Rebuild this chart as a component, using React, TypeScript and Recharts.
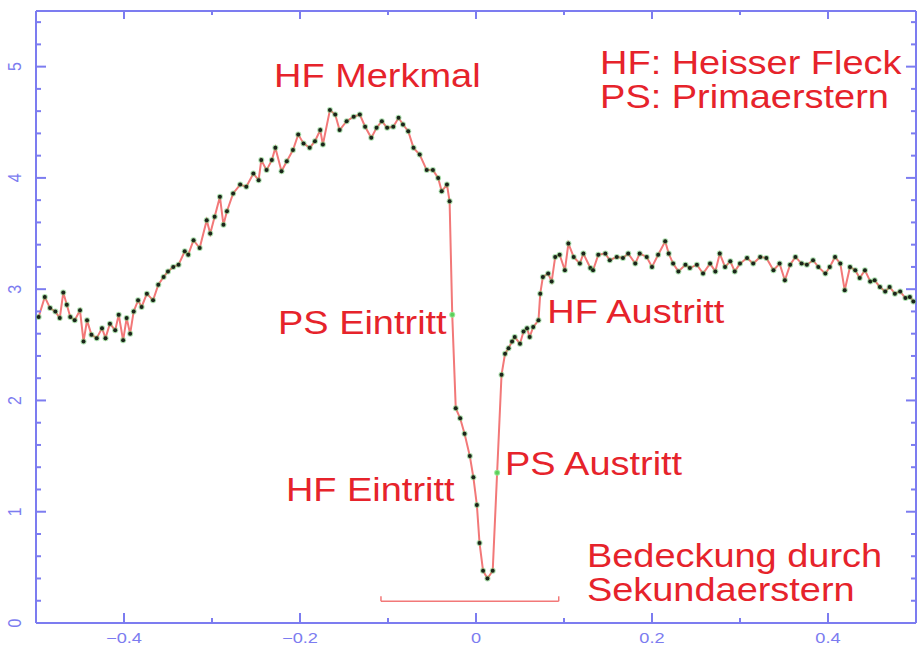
import { LineChart, Line, XAxis, YAxis, ReferenceLine, ReferenceDot } from 'recharts';

// Lichtkurve vor, waehrend und nach der Bedeckung (Phase, Helligkeit)
const prePhase = [
  -0.497, -0.490, -0.484, -0.478, -0.473, -0.469, -0.465, -0.461, -0.456, -0.450,
  -0.446, -0.442, -0.437, -0.431, -0.425, -0.421, -0.416, -0.410, -0.406, -0.401,
  -0.397, -0.393, -0.389, -0.384, -0.380, -0.374, -0.367, -0.361, -0.355, -0.350,
  -0.344, -0.338, -0.331, -0.327, -0.321, -0.314, -0.306, -0.302, -0.297, -0.291,
  -0.287, -0.283, -0.276, -0.268, -0.261, -0.253, -0.247, -0.244, -0.238, -0.232,
  -0.228, -0.221, -0.215, -0.208, -0.202, -0.196, -0.189, -0.183, -0.177, -0.174,
  -0.166, -0.160, -0.155, -0.147, -0.139, -0.132, -0.126, -0.119, -0.113, -0.107,
  -0.101, -0.094, -0.088, -0.083, -0.077, -0.071, -0.064, -0.056, -0.049, -0.043,
  -0.039, -0.033, -0.030,
];
const preFlux = [
  2.75, 2.93, 2.83, 2.80, 2.74, 2.97, 2.86, 2.75, 2.72, 2.81,
  2.53, 2.72, 2.59, 2.56, 2.65, 2.56, 2.69, 2.63, 2.77, 2.54,
  2.74, 2.60, 2.80, 2.90, 2.84, 2.96, 2.90, 3.04, 3.11, 3.16,
  3.20, 3.22, 3.34, 3.31, 3.44, 3.37, 3.62, 3.50, 3.65, 3.83,
  3.58, 3.70, 3.86, 3.94, 3.92, 4.04, 3.98, 4.16, 4.07, 4.16,
  4.27, 4.06, 4.15, 4.25, 4.39, 4.31, 4.27, 4.33, 4.43, 4.30,
  4.61, 4.57, 4.43, 4.51, 4.55, 4.57, 4.46, 4.36, 4.45, 4.51,
  4.45, 4.46, 4.54, 4.48, 4.42, 4.27, 4.21, 4.07, 4.07, 4.00,
  3.88, 3.94, 3.79,
];

const eclipsePhase = [-0.027, -0.023, -0.018, -0.013, -0.007, -0.003, 0.001, 0.004, 0.008, 0.013, 0.019, 0.024];
const eclipseFlux = [2.77, 1.93, 1.84, 1.70, 1.50, 1.31, 1.06, 0.72, 0.47, 0.40, 0.47, 1.35];

const postPhase = [
  0.029, 0.033, 0.037, 0.041, 0.044, 0.050, 0.054, 0.058, 0.061, 0.065,
  0.071, 0.073, 0.076, 0.082, 0.086, 0.090, 0.095, 0.101, 0.105, 0.111,
  0.118, 0.122, 0.130, 0.133, 0.139, 0.147, 0.152, 0.160, 0.167, 0.173,
  0.181, 0.186, 0.194, 0.200, 0.207, 0.215, 0.219, 0.224, 0.230, 0.238,
  0.243, 0.251, 0.258, 0.266, 0.272, 0.277, 0.283, 0.289, 0.294, 0.300,
  0.308, 0.315, 0.323, 0.330, 0.338, 0.345, 0.351, 0.357, 0.363, 0.370,
  0.376, 0.383, 0.389, 0.397, 0.402, 0.408, 0.414, 0.419, 0.425, 0.431,
  0.436, 0.442, 0.448, 0.453, 0.459, 0.465, 0.470, 0.476, 0.482, 0.488,
  0.493, 0.497,
];
const postFlux = [
  2.23, 2.42, 2.47, 2.53, 2.57, 2.51, 2.62, 2.65, 2.57, 2.66,
  2.72, 2.96, 3.11, 3.14, 3.07, 3.29, 3.31, 3.17, 3.41, 3.29,
  3.23, 3.32, 3.19, 3.17, 3.31, 3.32, 3.26, 3.29, 3.28, 3.32,
  3.23, 3.32, 3.29, 3.20, 3.31, 3.43, 3.32, 3.23, 3.16, 3.22,
  3.19, 3.22, 3.14, 3.23, 3.16, 3.32, 3.20, 3.25, 3.16, 3.23,
  3.28, 3.23, 3.29, 3.28, 3.17, 3.23, 3.08, 3.22, 3.29, 3.23,
  3.22, 3.26, 3.20, 3.14, 3.20, 3.29, 3.23, 2.99, 3.20, 3.17,
  3.10, 3.17, 3.07, 3.08, 3.02, 2.98, 3.02, 2.96, 2.98, 2.92,
  2.93, 2.89,
];

// Punkte, die gruen markiert sind (Mitte der Ein-/Austritte)
const greenPhases = [-0.027, 0.024];

// Achsen
const xTicks = [-0.4, -0.3, -0.2, -0.1, 0, 0.1, 0.2, 0.3, 0.4];
const yTicks = [
  0, 0.2, 0.4, 0.6, 0.8, 1, 1.2, 1.4, 1.6, 1.8, 2, 2.2, 2.4, 2.6,
  2.8, 3, 3.2, 3.4, 3.6, 3.8, 4, 4.2, 4.4, 4.6, 4.8, 5, 5.2, 5.4,
];

// Beschriftungen (Text, linke Kante in Phase, Grundlinie in Helligkeit)
const noteTexts = [
  'HF Merkmal', 'HF: Heisser Fleck', 'PS: Primaerstern', 'PS Eintritt', 'HF Austritt',
  'PS Austritt', 'HF Eintritt', 'Bedeckung durch', 'Sekundaerstern',
];
const notePhases = [-0.2295, 0.141, 0.141, -0.225, 0.081, 0.033, -0.216, 0.126, 0.126];
const noteFluxes = [4.82, 4.93, 4.63, 2.6, 2.7, 1.33, 1.1, 0.5, 0.2];

// Klammer "Bedeckung durch Sekundaerstern"
const bracketPhases = [-0.108, 0.094];
const bracketFlux = 0.195;
const bracketTop = 0.24;

const AXIS = '#7c7cf0';
const RED = '#e6232b';
const LINE = '#f27878';

const data = [
  ...prePhase.map((p, i) => ({ phase: p, flux: preFlux[i] })),
  ...eclipsePhase.map((p, i) => ({ phase: p, flux: eclipseFlux[i] })),
  ...postPhase.map((p, i) => ({ phase: p, flux: postFlux[i] })),
];

const isMajorX = (v: number) => Math.abs(v * 5 - Math.round(v * 5)) < 1e-6;
const isMajorY = (v: number) => Math.abs(v - Math.round(v)) < 1e-6;
const fmtX = (v: number) => {
  const r = Math.round(v * 10) / 10;
  if (r === 0) return '0';
  return r < 0 ? `\u2212${Math.abs(r)}` : `${r}`;
};

const tickFont = { fontFamily: 'Liberation Sans, Arial, sans-serif', fontSize: 14, fill: AXIS };

const BottomTick = ({ x, y, payload }: any) => {
  const major = isMajorX(payload.value);
  return (
    <g>
      <line x1={x} y1={y} x2={x} y2={y - (major ? 10 : 5)} stroke={AXIS} strokeWidth={2} />
      {major && (
        <text transform={`translate(${x},${y + 20}) scale(1.3,1)`} textAnchor="middle" {...tickFont}>
          {fmtX(payload.value)}
        </text>
      )}
    </g>
  );
};

const TopTick = ({ x, y, payload }: any) => {
  const major = isMajorX(payload.value);
  return <line x1={x} y1={y} x2={x} y2={y + (major ? 8 : 4)} stroke={AXIS} strokeWidth={2} />;
};

const LeftTick = ({ x, y, payload }: any) => {
  const major = isMajorY(payload.value);
  return (
    <g>
      <line x1={x} y1={y} x2={x + (major ? 10 : 5)} y2={y} stroke={AXIS} strokeWidth={2} />
      {major && (
        <text
          transform={`translate(${x - 21},${y}) rotate(-90) scale(1,1.15)`}
          textAnchor="middle"
          dominantBaseline="central"
          {...tickFont}
          fontSize={16}
        >
          {Math.round(payload.value)}
        </text>
      )}
    </g>
  );
};

const RightTick = ({ x, y, payload }: any) => {
  const major = isMajorY(payload.value);
  return <line x1={x} y1={y} x2={x - (major ? 10 : 5)} y2={y} stroke={AXIS} strokeWidth={2} />;
};

const renderDot = (p: any) => {
  const green = greenPhases.includes(p.payload.phase);
  return (
    <g key={`dot-${p.index}`}>
      <circle cx={p.cx} cy={p.cy} r={3} fill={green ? '#8ee88e' : '#5cbf60'} opacity={green ? 0.9 : 0.5} />
      <circle cx={p.cx} cy={p.cy} r={2} fill={green ? '#5ad05a' : '#1a241a'} />
    </g>
  );
};

const noteShape = (text: string) => (p: any) => (
  <text
    transform={`translate(${p.cx},${p.cy}) scale(1.15,1)`}
    fontFamily="Liberation Sans, Arial, Helvetica, sans-serif"
    fontSize={33}
    fill={RED}
  >
    {text}
  </text>
);

export default function App() {
  return (
    <div style={{ width: 917, height: 648, background: '#fff' }}>
      <style>{'body{margin:0}'}</style>
      <LineChart width={917} height={648} data={data} margin={{ top: 10, right: 0, bottom: 0, left: 0 }}>
        <XAxis
          dataKey="phase"
          type="number"
          domain={[-0.5, 0.5]}
          ticks={xTicks}
          interval={0}
          height={25}
          tickSize={0}
          tickMargin={0}
          tickLine={false}
          tick={<BottomTick />}
          axisLine={{ stroke: AXIS, strokeWidth: 2 }}
          allowDataOverflow
        />
        <XAxis
          xAxisId="top"
          orientation="top"
          dataKey="phase"
          type="number"
          domain={[-0.5, 0.5]}
          ticks={xTicks}
          interval={0}
          height={1}
          tickSize={0}
          tickMargin={0}
          tickLine={false}
          tick={<TopTick />}
          axisLine={{ stroke: AXIS, strokeWidth: 2 }}
          allowDataOverflow
        />
        <YAxis
          type="number"
          domain={[0, 5.5]}
          ticks={yTicks}
          interval={0}
          width={36}
          tickSize={0}
          tickMargin={0}
          tickLine={false}
          tick={<LeftTick />}
          axisLine={{ stroke: AXIS, strokeWidth: 2 }}
          allowDataOverflow
        />
        <YAxis
          yAxisId="right"
          orientation="right"
          type="number"
          domain={[0, 5.5]}
          ticks={yTicks}
          interval={0}
          width={1}
          tickSize={0}
          tickMargin={0}
          tickLine={false}
          tick={<RightTick />}
          axisLine={{ stroke: AXIS, strokeWidth: 2 }}
          allowDataOverflow
        />
        <ReferenceLine
          segment={[{ x: bracketPhases[0], y: bracketFlux }, { x: bracketPhases[1], y: bracketFlux }]}
          stroke={LINE}
          strokeWidth={1.5}
        />
        <ReferenceLine
          segment={[{ x: bracketPhases[0], y: bracketFlux }, { x: bracketPhases[0], y: bracketTop }]}
          stroke={LINE}
          strokeWidth={1.5}
        />
        <ReferenceLine
          segment={[{ x: bracketPhases[1], y: bracketFlux }, { x: bracketPhases[1], y: bracketTop }]}
          stroke={LINE}
          strokeWidth={1.5}
        />
        <Line
          type="linear"
          dataKey="flux"
          stroke={LINE}
          strokeWidth={2}
          dot={renderDot}
          isAnimationActive={false}
        />
        {noteTexts.map((t, i) => (
          <ReferenceDot
            key={t}
            x={notePhases[i]}
            y={noteFluxes[i]}
            r={1}
            shape={noteShape(t)}
            ifOverflow="visible"
          />
        ))}
      </LineChart>
    </div>
  );
}
